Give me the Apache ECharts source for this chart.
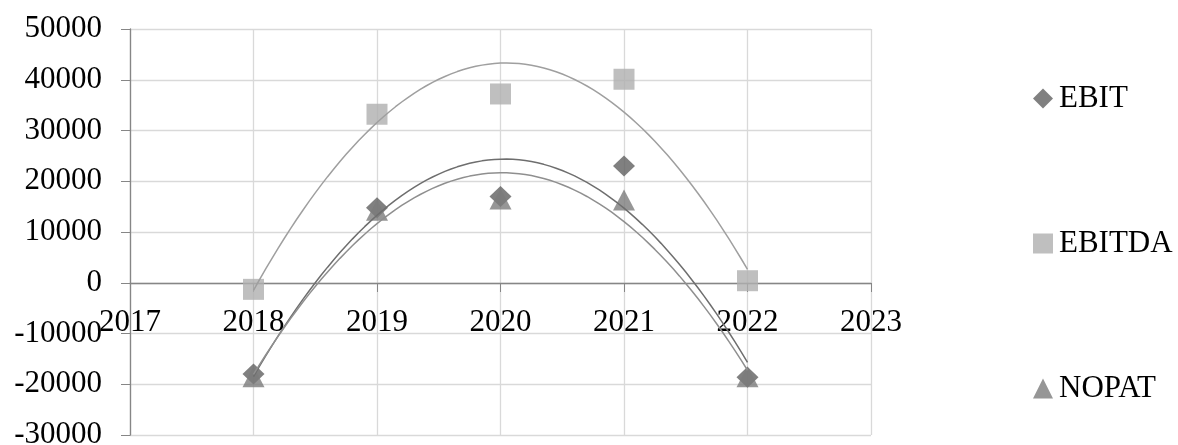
<!DOCTYPE html>
<html>
<head>
<meta charset="utf-8">
<script src="https://cdn.jsdelivr.net/npm/echarts@6/dist/echarts.min.js"></script>
<style>
  html, body { margin: 0; padding: 0; background: #fff; }
  #chart { width: 1178px; height: 445px; }
</style>
</head>
<body>
<div id="chart"></div>
<script>
// data
const years = [2018, 2019, 2020, 2021, 2022]
const ebit = [-18000, 14800, 17000, 23000, -18600]
const ebitda = [-1300, 33200, 37200, 40100, 400]
const nopat = [-18500, 14300, 16500, 16300, -18500]

const font = 'Liberation Serif'

// 2nd order polynomial trendline (least squares), like the spreadsheet one
function polyFit (xs, ys) {
  const n = xs.length
  const mx = xs.reduce((a, b) => a + b, 0) / n
  const t = xs.map(x => x - mx)
  let s = [0, 0, 0, 0, 0]
  let r = [0, 0, 0]
  for (let i = 0; i < n; i++) {
    for (let k = 0; k < 5; k++) s[k] += Math.pow(t[i], k)
    for (let k = 0; k < 3; k++) r[k] += Math.pow(t[i], k) * ys[i]
  }
  // solve 3x3 normal equations
  const A = [[s[0], s[1], s[2], r[0]], [s[1], s[2], s[3], r[1]], [s[2], s[3], s[4], r[2]]]
  for (let c = 0; c < 3; c++) {
    for (let rr = c + 1; rr < 3; rr++) {
      const f = A[rr][c] / A[c][c]
      for (let k = c; k < 4; k++) A[rr][k] -= f * A[c][k]
    }
  }
  const b = [0, 0, 0]
  for (let c = 2; c >= 0; c--) {
    let v = A[c][3]
    for (let k = c + 1; k < 3; k++) v -= A[c][k] * b[k]
    b[c] = v / A[c][c]
  }
  return x => b[0] + b[1] * (x - mx) + b[2] * (x - mx) * (x - mx)
}

function trend (ys) {
  const f = polyFit(years, ys)
  const pts = []
  const x0 = years[0]
  const x1 = years[years.length - 1]
  for (let i = 0; i <= 80; i++) {
    const x = x0 + (x1 - x0) * i / 80
    pts.push([x, f(x)])
  }
  return pts
}

function pairs (ys) {
  return years.map((y, i) => [y, ys[i]])
}

const chart = echarts.init(document.getElementById('chart'))
chart.setOption({
  animation: false,
  textStyle: { fontFamily: font },
  grid: { left: 130, right: 307, top: 29, bottom: 10, outerBoundsMode: 'none' },
  xAxis: {
    type: 'value',
    min: 2017,
    max: 2023,
    interval: 1,
    position: 'bottom',
    // the x axis sits at y = 0 (0 is 152 px above the grid bottom)
    offset: -152,
    axisLine: { onZero: false, lineStyle: { color: '#868686', width: 1.3 } },
    axisTick: { show: true, length: 9, lineStyle: { color: '#868686' } },
    axisLabel: {
      show: true, color: '#000', fontSize: 31, fontFamily: font, margin: 24,
      showMinLabel: true, showMaxLabel: true, hideOverlap: false,
      formatter: v => String(v)
    },
    splitLine: { show: true, lineStyle: { color: '#d9d9d9', width: 1.3 } }
  },
  yAxis: {
    type: 'value',
    min: -30000,
    max: 50000,
    interval: 10000,
    axisLine: { show: true, onZero: false, lineStyle: { color: '#868686', width: 1.3 } },
    axisTick: { show: true, length: 9, lineStyle: { color: '#868686' } },
    axisLabel: {
      color: '#000', fontSize: 31, fontFamily: font, margin: 28,
      formatter: v => String(v)
    },
    splitLine: { show: true, lineStyle: { color: '#d9d9d9', width: 1.3 } }
  },
  legend: [
    { data: [{ name: 'EBIT', icon: 'diamond' }], left: 1028, top: 78 },
    { data: [{ name: 'EBITDA', icon: 'rect' }], left: 1028, top: 223 },
    { data: [{ name: 'NOPAT', icon: 'triangle' }], left: 1028, top: 368 }
  ].map(l => Object.assign(l, {
    orient: 'vertical',
    itemWidth: 20,
    itemHeight: 20,
    itemGap: 0,
    textStyle: { color: '#000', fontSize: 31, fontFamily: font, padding: [0, 0, 0, 1] }
  })),
  series: [
    {
      name: 'EBIT', type: 'scatter', symbol: 'diamond', symbolSize: [22, 21],
      itemStyle: { color: '#606060' }, data: pairs(ebit), z: 3
    },
    {
      name: 'EBITDA', type: 'scatter', symbol: 'rect', symbolSize: 21,
      itemStyle: { color: '#afafaf' }, data: pairs(ebitda), z: 2
    },
    {
      name: 'NOPAT', type: 'scatter', symbol: 'triangle', symbolSize: [22, 21],
      itemStyle: { color: '#7c7c7c' }, data: pairs(nopat), z: 4
    },
    {
      name: 'trend EBIT', type: 'line', showSymbol: false, data: trend(ebit),
      lineStyle: { color: '#6e6e6e', width: 1.5 }, z: 5, silent: true
    },
    {
      name: 'trend EBITDA', type: 'line', showSymbol: false, data: trend(ebitda),
      lineStyle: { color: '#9f9f9f', width: 1.5 }, z: 5, silent: true
    },
    {
      name: 'trend NOPAT', type: 'line', showSymbol: false, data: trend(nopat),
      lineStyle: { color: '#8f8f8f', width: 1.5 }, z: 5, silent: true
    }
  ]
})
</script>
</body>
</html>
